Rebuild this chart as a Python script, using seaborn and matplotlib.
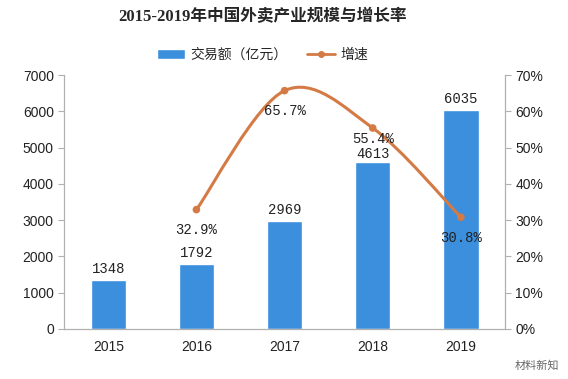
import numpy as np
import pandas as pd
import seaborn as sns
import matplotlib.pyplot as plt
from matplotlib.path import Path
from matplotlib.patches import PathPatch

years = ['2015', '2016', '2017', '2018', '2019']
volume = [1348, 1792, 2969, 4613, 6035]
growth_years = ['2016', '2017', '2018', '2019']
growth = [32.9, 65.7, 55.4, 30.8]

bar_color = '#3b8fdd'
line_color = '#d47a45'

sns.set_style('white')
plt.rcParams['font.family'] = ['Liberation Sans', 'Noto Sans CJK SC', 'DejaVu Sans']

fig = plt.figure(figsize=(5.68, 3.79), dpi=100)
ax = fig.add_axes([0.113, 0.132, 0.776, 0.670])

df = pd.DataFrame({'year': years, 'volume': volume})
sns.barplot(data=df, x='year', y='volume', color=bar_color, width=0.4,
            saturation=1, ax=ax, label='交易额（亿元）')
ax.set_ylim(0, 7000)
ax.set_xlim(-0.5, 4.5)
ax.set_yticks(range(0, 7001, 1000))
ax.set_xlabel('')
ax.set_ylabel('')
bar_dy = [110, 110, 110, 15, 110]
for i, (v, d) in enumerate(zip(volume, bar_dy)):
    ax.text(i, v + d, str(v), ha='center', va='bottom', fontsize=10,
            family='Liberation Mono', color='#222222')

ax2 = ax.twinx()
ax2.set_ylim(0, 70)
ax2.set_yticks(range(0, 71, 10))
ax2.set_yticklabels([f'{t}%' for t in range(0, 71, 10)])

# smooth curve through the growth points (Catmull-Rom as cubic beziers)
xs = np.array([years.index(y) for y in growth_years], dtype=float)
ys = np.array(growth, dtype=float)
pts = np.column_stack([xs, ys])
ext = np.vstack([pts[0], pts, pts[-1]])
verts = [tuple(pts[0])]
codes = [Path.MOVETO]
for k in range(len(pts) - 1):
    p0, p1, p2, p3 = ext[k], ext[k + 1], ext[k + 2], ext[k + 3]
    c1 = p1 + (p2 - p0) / 6
    c2 = p2 - (p3 - p1) / 6
    verts += [tuple(c1), tuple(c2), tuple(p2)]
    codes += [Path.CURVE4] * 3
ax2.add_patch(PathPatch(Path(verts, codes), fill=False, edgecolor=line_color, lw=2.2))
sns.scatterplot(x=xs, y=ys, ax=ax2, color=line_color, s=30, edgecolor='none', zorder=5)
ax2.plot([], [], color=line_color, marker='o', ms=4, lw=2, label='增速')

label_dy = [-3.8, -3.8, -1.2, -3.8]
for x, y, d in zip(xs, ys, label_dy):
    ax2.text(x, y + d, f'{y:.1f}%', ha='center', va='top', fontsize=10,
             family='Liberation Mono', color='#222222')

for a in (ax, ax2):
    for s in ('top',):
        a.spines[s].set_visible(False)
    for s in ('left', 'right', 'bottom'):
        a.spines[s].set_color('#b0b0b0')
        a.spines[s].set_linewidth(0.8)
    a.tick_params(axis='both', labelsize=10, colors='#222222', length=4,
                  width=0.8, direction='out')
    a.tick_params(axis='y', color='#b0b0b0')
ax.tick_params(axis='x', length=0, pad=8)
ax2.set_ylabel('')

h1, l1 = ax.get_legend_handles_labels()
h2, l2 = ax2.get_legend_handles_labels()
fig.legend(h1 + h2, l1 + l2, loc='center', bbox_to_anchor=(0.463, 0.855), ncol=2,
           frameon=False, handlelength=2.0, columnspacing=1.4, handletextpad=0.4,
           prop={'family': ['Noto Sans CJK SC'], 'size': 10})
if ax.get_legend():
    ax.get_legend().remove()

fig.text(0.462, 0.955, '2015-2019年中国外卖产业规模与增长率', ha='center', va='center',
         fontsize=12, fontweight='bold', family=['Liberation Serif', 'Noto Sans CJK SC'])
fig.text(0.985, 0.035, '材料新知', ha='right', va='center', fontsize=8,
         color='#666666', family=['Noto Sans CJK SC'])

fig.savefig('out.png', dpi=100, facecolor='white')
